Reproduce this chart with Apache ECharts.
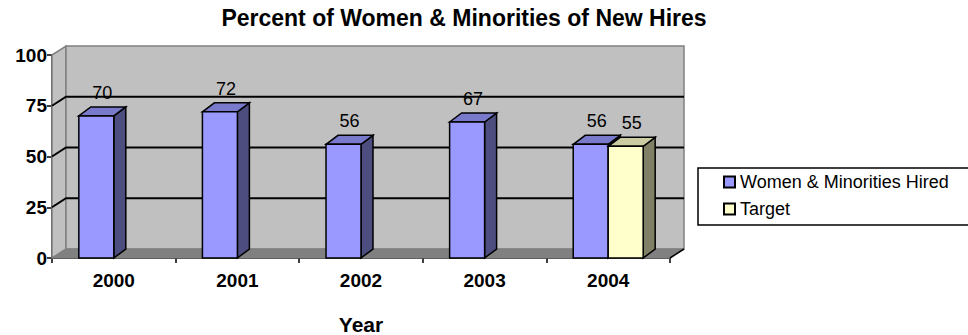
<!DOCTYPE html>
<html>
<head>
<meta charset="utf-8">
<script src="https://cdn.jsdelivr.net/npm/echarts@6/dist/echarts.min.js"></script>
<style>html,body{margin:0;padding:0;background:#fff;}#c{width:968px;height:335px;}</style>
</head>
<body>
<div id="c"></div>
<script>
const categories = ['2000', '2001', '2002', '2003', '2004'];
const womenHired = [70, 72, 56, 67, 56];
const targetValues = [null, null, null, null, 55];
const gridTicks = [25, 50, 75];
const seriesNames = ['Women & Minorities Hired', 'Target'];

const WALL_DX = 14, WALL_DY = -9;
const BAR_DX = 12, BAR_DY = -9;
const FONT = 'Liberation Sans, Arial, sans-serif';

const womenData = womenHired.map((v, i) => [i, v]).filter(d => d[1] != null);
const targetData = targetValues.map((v, i) => [i, v]).filter(d => d[1] != null);

function wallsRender(params, api) {
  const cs = params.coordSys;
  const L = cs.x, T = cs.y, R = cs.x + cs.width, B = cs.y + cs.height;
  const children = [
    { type: 'polygon', shape: { points: [[L, T], [L + WALL_DX, T + WALL_DY], [L + WALL_DX, B + WALL_DY], [L, B]] },
      style: { fill: '#c0c0c0', stroke: '#808080', lineWidth: 1.5 } },
    { type: 'rect', shape: { x: L + WALL_DX, y: T + WALL_DY, width: cs.width, height: cs.height },
      style: { fill: '#c0c0c0', stroke: '#808080', lineWidth: 1.5 } },
    { type: 'polygon', shape: { points: [[L, B], [L + WALL_DX, B + WALL_DY], [R + WALL_DX, B + WALL_DY], [R, B]] },
      style: { fill: '#808080', stroke: '#808080', lineWidth: 1 } },
    { type: 'line', shape: { x1: R, y1: B, x2: R + WALL_DX, y2: B + WALL_DY },
      style: { stroke: '#000', lineWidth: 1.5 } }
  ];
  return { type: 'group', children };
}

function gridRender(params, api) {
  const cs = params.coordSys;
  const L = cs.x, R = cs.x + cs.width;
  const y = api.coord([0, api.value(0)])[1];
  return {
    type: 'polyline',
    shape: { points: [[L, y], [L + WALL_DX, y + WALL_DY], [R + WALL_DX, y + WALL_DY]] },
    style: { stroke: '#000', lineWidth: 2, fill: null }
  };
}

function makeBarRender(slot, colors) {
  return function (params, api) {
    const idx = api.value(0), v = api.value(1);
    const c = api.coord([idx, v]);
    const b = api.coord([idx, 0]);
    const catW = api.size([1, 0])[0];
    const bw = catW * 0.283;
    const x0 = slot === 0 ? c[0] - bw : c[0];
    const x1 = x0 + bw;
    const top = c[1], bot = b[1];
    const st = { stroke: '#000', lineWidth: 1.5 };
    return {
      type: 'group',
      children: [
        { type: 'polygon', shape: { points: [[x1, top], [x1 + BAR_DX, top + BAR_DY], [x1 + BAR_DX, bot + BAR_DY], [x1, bot]] },
          style: Object.assign({ fill: colors.side }, st) },
        { type: 'polygon', shape: { points: [[x0, top], [x0 + BAR_DX, top + BAR_DY], [x1 + BAR_DX, top + BAR_DY], [x1, top]] },
          style: Object.assign({ fill: colors.top }, st) },
        { type: 'rect', shape: { x: x0, y: top, width: bw, height: bot - top },
          style: Object.assign({ fill: colors.front }, st) },
        { type: 'text', x: (x0 + x1 + BAR_DX) / 2, y: top + BAR_DY - 5,
          style: { text: String(v), fill: '#000', font: '18px ' + FONT, align: 'center', verticalAlign: 'bottom' } }
      ]
    };
  };
}

const chart = echarts.init(document.getElementById('c'), null, { renderer: 'svg' });
chart.setOption({
  animation: false,
  backgroundColor: '#fff',
  title: {
    text: 'Percent of Women & Minorities of New Hires',
    left: 459, top: 1, textAlign: 'center',
    textStyle: { fontFamily: FONT, fontWeight: 'bold', fontSize: 23, color: '#000' }
  },
  legend: {
    orient: 'vertical', left: 698, top: 168,
    data: seriesNames,
    icon: 'rect', itemWidth: 11, itemHeight: 11, itemGap: 9,
    borderColor: '#000', borderWidth: 1.5,
    padding: [5, 40, 7, 25],
    textStyle: { fontFamily: FONT, fontSize: 18, color: '#000' }
  },
  grid: { left: 52, right: 298, top: 55, bottom: 77, outerBoundsMode: 'none', containLabel: false },
  xAxis: {
    type: 'category', data: categories,
    name: 'Year', nameLocation: 'middle', nameGap: 56,
    nameTextStyle: { fontFamily: FONT, fontWeight: 'bold', fontSize: 21, color: '#000' },
    axisLine: { lineStyle: { color: '#000', width: 1.5 } },
    axisTick: { show: true, length: 5, inside: false, lineStyle: { color: '#000', width: 1.5 } },
    axisLabel: { fontFamily: FONT, fontWeight: 'bold', fontSize: 19, color: '#000', margin: 13 },
    splitLine: { show: false }
  },
  yAxis: {
    type: 'value', min: 0, max: 100, interval: 25,
    axisLine: { show: true, lineStyle: { color: '#000', width: 1.5 } },
    axisTick: { show: true, length: 5, lineStyle: { color: '#000', width: 1.5 } },
    axisLabel: { fontFamily: FONT, fontWeight: 'bold', fontSize: 19, color: '#000', margin: 5 },
    splitLine: { show: false }
  },
  series: [
    { type: 'custom', name: '_walls', renderItem: wallsRender, data: [[0]], silent: true, z: 1 },
    { type: 'custom', name: '_grid', renderItem: gridRender, data: gridTicks.map(t => [t]), encode: { y: 0 }, silent: true, z: 2 },
    { type: 'custom', name: seriesNames[0], renderItem: makeBarRender(0, { front: '#9999ff', top: '#7a7acc', side: '#4d4d80' }),
      data: womenData, encode: { x: 0, y: 1 }, z: 3,
      itemStyle: { color: '#9999ff', borderColor: '#000', borderWidth: 1.5 } },
    { type: 'custom', name: seriesNames[1], renderItem: makeBarRender(1, { front: '#ffffcc', top: '#ccccA3', side: '#808066' }),
      data: targetData, encode: { x: 0, y: 1 }, z: 3,
      itemStyle: { color: '#ffffcc', borderColor: '#000', borderWidth: 1.5 } }
  ]
});
</script>
</body>
</html>
